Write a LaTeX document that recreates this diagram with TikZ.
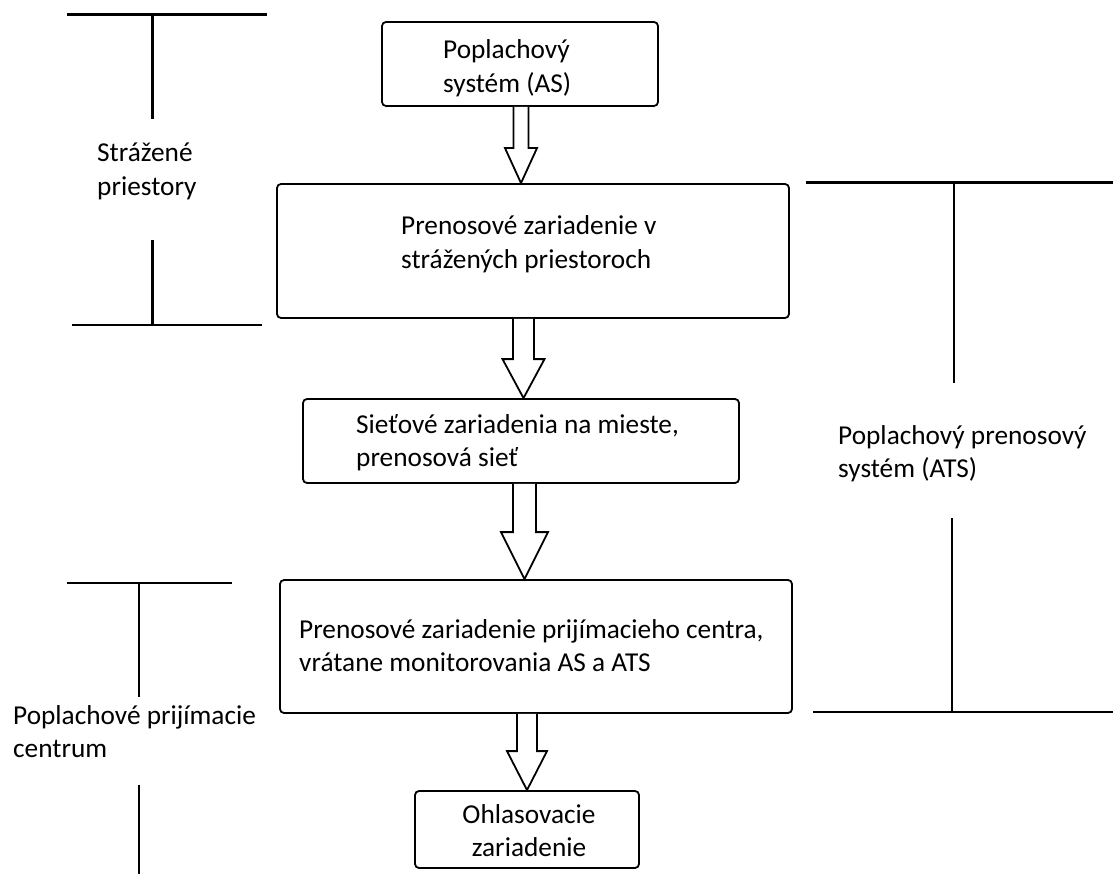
\documentclass[tikz,border=0pt]{standalone}
\usepackage{fontspec}
\setmainfont{Carlito}
\usetikzlibrary{calc}
\newcommand\bodyfont{\fontsize{27.3}{33.5}\selectfont}
\newcommand\leftlines[1]{\begin{tabular}[t]{@{}l@{}}#1\end{tabular}}
\newcommand\midlines[1]{\begin{tabular}[t]{@{}c@{}}#1\end{tabular}}
% hollow block arrow from the bottom of one box to the top of the next:
% #1 from, #2 to, #3 axis x, #4 shaft half width, #5 head half width, #6 head length
\newcommand\hollowarrow[6]{%
  \draw[hollow] let \p1=(#1.south), \p2=(#2.north) in
    (#3-#4,\y1) -- (#3-#4,\y2+#6) -- (#3-#5,\y2+#6) -- (#3,\y2)
    -- (#3+#5,\y2+#6) -- (#3+#4,\y2+#6) -- (#3+#4,\y1);}
\begin{document}
\begin{tikzpicture}[x=1pt,y=-1pt,
  box/.style={draw, line width=1.8pt, rounded corners=4pt, inner sep=0pt},
  txt/.style={font=\bodyfont, inner sep=0pt, anchor=base west},
  hollow/.style={draw, fill=white, line width=1.8pt, line join=miter},
  bracket/.style={line width=2.2pt}]
\useasboundingbox (0,0) rectangle (1113,874);

% process boxes
\node[box, minimum width=276pt, minimum height=84pt]  (as)   at (520,64)    {};
\node[box, minimum width=512pt, minimum height=134pt] (tx)   at (533,251)   {};
\node[box, minimum width=436pt, minimum height=84pt]  (net)  at (521,441)   {};
\node[box, minimum width=512pt, minimum height=133pt] (rx)   at (536,646.5) {};
\node[box, minimum width=224pt, minimum height=77pt]  (ann)  at (527,829.5) {};

% box texts
\node[txt] (asT)  at (443,59)  {\leftlines{Poplachový\\systém (AS)}};
\node[txt] (txT)  at (401,235) {\leftlines{Prenosové zariadenie v\\strážených priestoroch}};
\node[txt] (netT) at (356,433) {\leftlines{Sieťové zariadenia na mieste,\\prenosová sieť}};
\node[txt] (rxT)  at (299,638) {\leftlines{Prenosové zariadenie prijímacieho centra,\\vrátane monitorovania AS a ATS}};
\node[txt, anchor=base] (annT) at (529,823) {\midlines{Ohlasovacie\\zariadenie}};

% flow arrows
\hollowarrow{as}{tx}{521pt}{7.5pt}{16pt}{35pt}
\hollowarrow{tx}{net}{523.5pt}{10.5pt}{21pt}{39pt}
\hollowarrow{net}{rx}{524.5pt}{11.5pt}{23.5pt}{47pt}
\hollowarrow{rx}{ann}{527pt}{10pt}{20pt}{39pt}

% range markers with their labels
\node[txt] (guarded) at (97,162) {\leftlines{Strážené\\priestory}};
\draw[bracket] (67,14.5) -- (267,14.5) (152.5,14.5) -- (152.5,119);
\draw[bracket] (152.5,240) -- (152.5,325) (72,325) -- (262,325);

\node[txt] (ats) at (838,444) {\leftlines{Poplachový prenosový\\systém (ATS)}};
\draw[bracket] (806,182.5) -- (1113,182.5) (954,182.5) -- (954,383);
\draw[bracket] (952,518) -- (952,712) (813,712) -- (1113,712);

\node[txt] (arc) at (13,724) {\leftlines{Poplachové prijímacie\\centrum}};
\draw[bracket] (67,583) -- (232,583) (139,583) -- (139,697);
\draw[bracket] (139,785) -- (139,874);
\end{tikzpicture}
\end{document}
